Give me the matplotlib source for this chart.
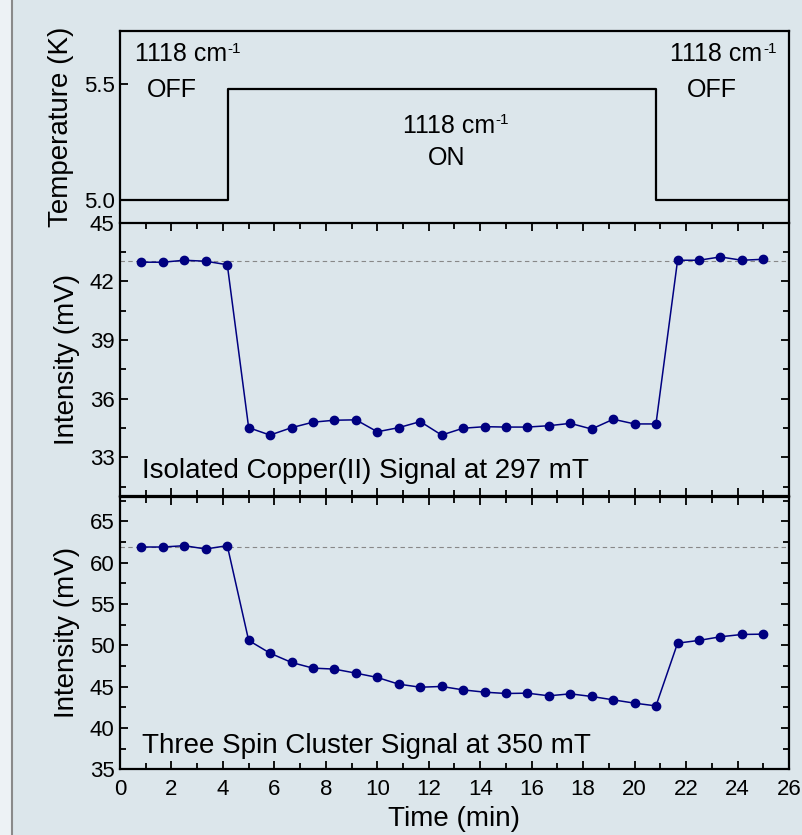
import numpy as np
import matplotlib
matplotlib.use("Agg")
import matplotlib.pyplot as plt
from matplotlib.ticker import MultipleLocator
from matplotlib.patches import Rectangle
from matplotlib.lines import Line2D

plt.rcParams['font.family'] = ['Liberation Sans', 'DejaVu Sans']

# ---- data ----
time_min = [0.83, 1.67, 2.50, 3.33, 4.17, 5.00, 5.83, 6.67, 7.50, 8.33,
            9.17, 10.00, 10.83, 11.67, 12.50, 13.33, 14.17, 15.00, 15.83, 16.67,
            17.50, 18.33, 19.17, 20.00, 20.83, 21.67, 22.50, 23.33, 24.17, 25.00]
copper_mv = [42.98, 42.98, 43.08, 43.03, 42.85, 34.52, 34.14, 34.52, 34.80, 34.90,
             34.92, 34.31, 34.52, 34.83, 34.14, 34.49, 34.57, 34.55, 34.55, 34.62,
             34.74, 34.45, 34.95, 34.71, 34.71, 43.08, 43.08, 43.25, 43.08, 43.13]
cluster_mv = [61.89, 61.89, 62.05, 61.65, 62.05, 50.59, 49.05, 47.92, 47.24, 47.12,
              46.63, 46.11, 45.30, 44.93, 45.02, 44.61, 44.33, 44.17, 44.21, 43.89,
              44.13, 43.81, 43.40, 43.00, 42.67, 50.26, 50.59, 51.03, 51.31, 51.35]
copper_ref = 43.03
cluster_ref = 61.89
temp_time = [0.0, 4.18, 4.18, 20.83, 20.83, 26.0]
temp_k = [5.0, 5.0, 5.48, 5.48, 5.0, 5.0]

bg = '#dce6eb'
navy = '#000080'

fig = plt.figure(figsize=(8.03, 8.35), dpi=100, facecolor=bg)
fig.patches.append(Rectangle((0, 0), 11.5/803, 1, transform=fig.transFigure,
                             facecolor='#edf2f5', edgecolor='none', zorder=0))
fig.lines.append(Line2D([12/803, 12/803], [0, 1], transform=fig.transFigure,
                        color='#8a8a8a', lw=1.5))

L, R = 120/803, 789/803
H = 835
def ybox(top, bot):
    return 1 - bot/H, (bot - top)/H

b, h = ybox(30.7, 222.7)
ax0 = fig.add_axes([L, b, R-L, h], facecolor=bg)
b, h = ybox(222.7, 496.5)
ax1 = fig.add_axes([L, b, R-L, h], facecolor=bg)
b, h = ybox(496.5, 769.3)
ax2 = fig.add_axes([L, b, R-L, h], facecolor=bg)

for ax in (ax0, ax1, ax2):
    ax.set_xlim(0, 26)
    for s in ax.spines.values():
        s.set_linewidth(1.6)
    ax.tick_params(which='both', direction='in', labelsize=16, width=1.3,
                   top=True, right=True, pad=4)
    ax.tick_params(axis='x', pad=7)
    ax.tick_params(which='major', length=6)
    ax.tick_params(which='minor', length=4)
    ax.xaxis.set_major_locator(MultipleLocator(2))
    ax.xaxis.set_minor_locator(MultipleLocator(1))

LBL = 20

# top panel
ax0.plot(temp_time, temp_k, color='black', lw=1.6)
ax0.set_ylim(4.90, 5.733)
ax0.set_yticks([5.0, 5.5])
ax0.set_yticklabels(['5.0', '5.5'])
ax0.tick_params(which='both', top=False, bottom=False, right=False,
                labelbottom=False)
ax0.spines['bottom'].set_visible(False)
ax0.set_ylabel('Temperature (K)', fontsize=LBL, labelpad=7)

def wavenum(ax, x, y):
    t = ax.text(x, y, '1118 cm', fontsize=18)
    ax.annotate('-1', xy=(1, 1), xycoords=t, xytext=(0.5, 0.5),
                textcoords='offset points', ha='left', va='top', fontsize=11)

wavenum(ax0, 0.58, 5.60)
ax0.text(1.05, 5.447, 'OFF', fontsize=18)
wavenum(ax0, 21.38, 5.60)
ax0.text(22.04, 5.447, 'OFF', fontsize=18)
wavenum(ax0, 11.0, 5.29)
ax0.text(11.97, 5.15, 'ON', fontsize=18)

# middle panel
ax1.plot(time_min, copper_mv, '-o', color=navy, lw=1.1, ms=6)
ax1.axhline(copper_ref, color='#888888', lw=0.8, ls=(0, (4, 3)), zorder=0)
ax1.set_ylim(31, 45)
ax1.set_yticks([33, 36, 39, 42, 45])
ax1.yaxis.set_minor_locator(MultipleLocator(1.5))
ax1.tick_params(labelbottom=False)
ax1.set_ylabel('Intensity (mV)', fontsize=LBL, labelpad=7)
ax1.text(0.85, 31.95, 'Isolated Copper(II) Signal at 297 mT', fontsize=20)

# bottom panel
ax2.plot(time_min, cluster_mv, '-o', color=navy, lw=1.1, ms=6)
ax2.axhline(cluster_ref, color='#888888', lw=0.8, ls=(0, (4, 3)), zorder=0)
ax2.set_ylim(35, 68)
ax2.set_yticks([35, 40, 45, 50, 55, 60, 65])
ax2.yaxis.set_minor_locator(MultipleLocator(2.5))
ax2.set_ylabel('Intensity (mV)', fontsize=LBL, labelpad=7)
ax2.set_xlabel('Time (min)', fontsize=LBL, labelpad=4)
ax2.text(0.85, 36.95, 'Three Spin Cluster Signal at 350 mT', fontsize=20)

fig.savefig('out.png', dpi=100, facecolor=bg)
